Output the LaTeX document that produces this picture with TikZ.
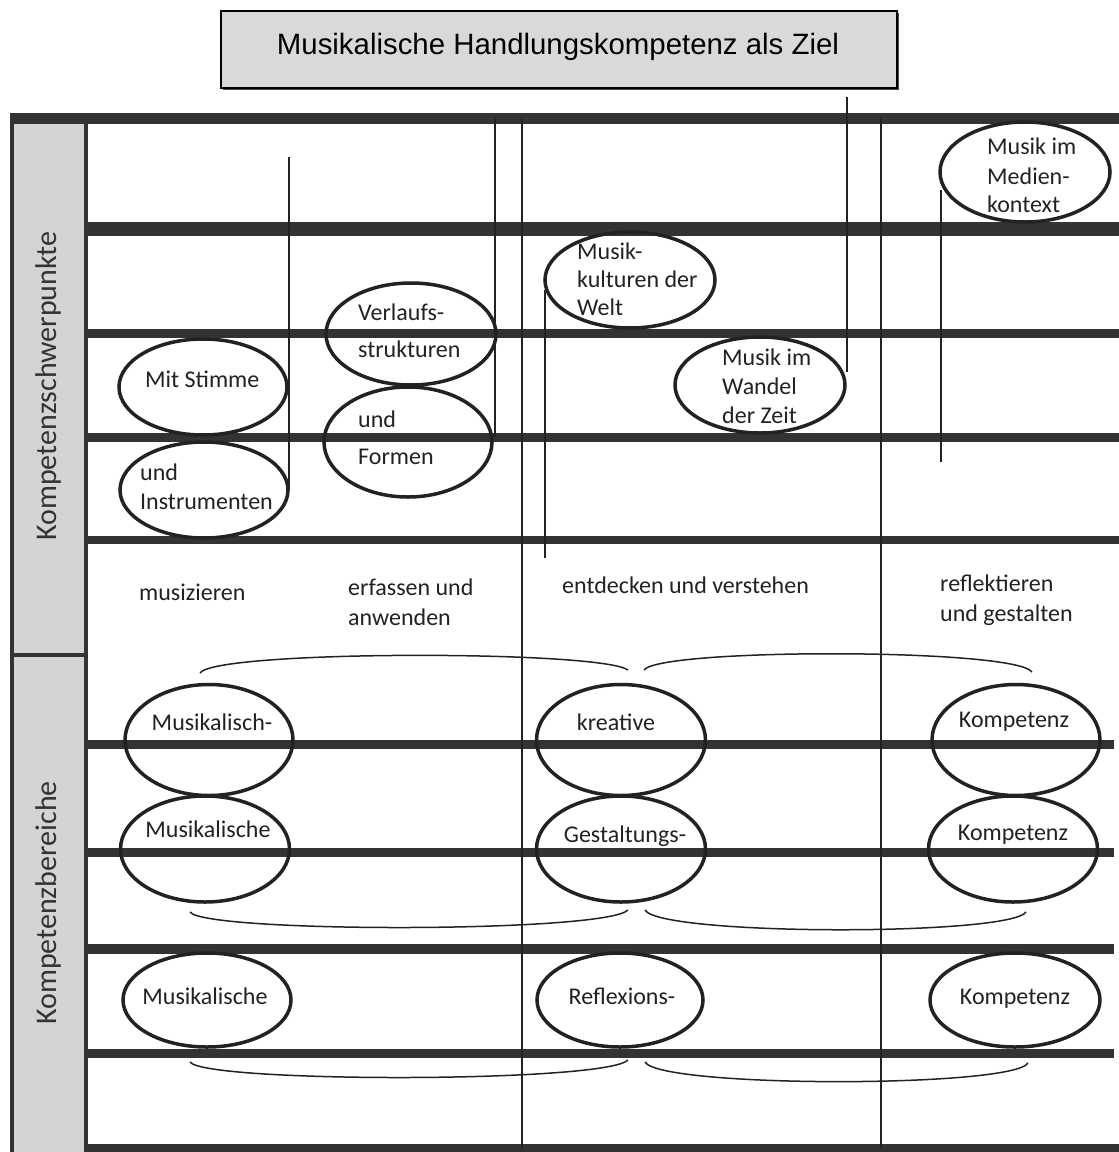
\documentclass[tikz,border=0pt]{standalone}
\usepackage{fontspec}
\setmainfont{Carlito}
\newfontfamily\titlefont{Liberation Sans}
\usetikzlibrary{shapes.geometric}
\definecolor{barcol}{HTML}{333333}
\definecolor{sidegray}{HTML}{D4D4D4}
\definecolor{titlegray}{HTML}{D9D9D9}
\definecolor{inkcol}{HTML}{222222}
\begin{document}
\begin{tikzpicture}[x=1pt,y=-1pt,
  hbar/.style={line width=#1, draw=barcol},
  thinline/.style={line width=1.3pt, draw=inkcol},
  ell/.style={draw=inkcol, line width=3.5pt, ellipse, inner sep=0pt},
  lbl/.style={font=\fontsize{24}{29}\selectfont, inner sep=0pt, anchor=mid west, text=inkcol, yshift=-5pt},
  clbl/.style={font=\fontsize{24}{29}\selectfont, inner sep=0pt, anchor=mid, text=inkcol, yshift=-5pt},
  sidelbl/.style={font=\fontsize{30}{36}\selectfont, inner sep=0pt, rotate=90, text=barcol},
  arcline/.style={line width=1.5pt, draw=inkcol}]
\useasboundingbox (0,0) rectangle (1119,1152);
\fill[white] (0,0) rectangle (1119,1152);

% title box
\fill[black!70] (223,13) rectangle (899,90);
\node[draw=black, line width=2pt, fill=titlegray, minimum width=676pt, minimum height=77pt, inner sep=0pt, anchor=north west] (title) at (220,10) {};
\node[font=\titlefont\fontsize{29.4}{34}\selectfont, inner sep=0pt, anchor=base] (titletext) at (558,54) {Musikalische Handlungskompetenz als Ziel};

% sidebar
\fill[sidegray] (12,118) rectangle (86,1152);
\draw[barcol, line width=4pt] (12,1152) -- (12,116) (86,116) -- (86,1152);
\draw[barcol, line width=4pt] (12,655) -- (86,655);
\node[sidelbl] (side1) at (49,386) {Kompetenzschwerpunkte};
\node[sidelbl] (side2) at (49,903) {Kompetenzbereiche};

% horizontal bars, top section
\draw[hbar=11pt] (10,118) -- (1119,118);
\draw[hbar=14pt] (86,229) -- (1119,229);
\draw[hbar=9pt] (86,333) -- (1119,333);
\draw[hbar=9pt] (86,437) -- (1119,437);
\draw[hbar=8pt] (86,540) -- (1119,540);
% horizontal bars, bottom section
\draw[hbar=9pt] (86,744) -- (1114,744);
\draw[hbar=9pt] (86,852) -- (1114,852);
\draw[hbar=10pt] (86,949) -- (1114,949);
\draw[hbar=9pt] (86,1053) -- (1114,1053);
\draw[hbar=8pt] (86,1148) -- (1119,1148);

% thin vertical lines
\draw[thinline] (289,157) -- (289,490);
\draw[thinline] (495,118) -- (495,437);
\draw[thinline] (522,118) -- (522,1148);
\draw[thinline] (545,290) -- (545,558);
\draw[thinline] (847,97) -- (847,372);
\draw[thinline] (881,118) -- (881,1148);
\draw[thinline] (941,190) -- (941,462);

% top ellipses
\node[ell, minimum width=170pt, minimum height=100pt] (eMedien) at (1025,172) {};
\node[ell, minimum width=170pt, minimum height=96pt] (eKultur) at (630,280) {};
\node[ell, minimum width=170pt, minimum height=96pt] (eWandel) at (760,385) {};
\node[ell, minimum width=168pt, minimum height=96pt] (eStimme) at (203,387) {};
\node[ell, minimum width=168pt, minimum height=96pt] (eInstr) at (204,490) {};
\node[ell, minimum width=170pt, minimum height=102pt] (eVerlauf) at (411,334) {};
\node[ell, minimum width=168pt, minimum height=110pt] (eFormen) at (408,442) {};

% top ellipse texts
\node[lbl] (tMed1) at (987,147) {Musik im};
\node[lbl] (tMed2) at (987,177) {Medien-};
\node[lbl] (tMed3) at (987,205) {kontext};
\node[lbl] (tKul1) at (577,252) {Musik-};
\node[lbl] (tKul2) at (577,280) {kulturen der};
\node[lbl] (tKul3) at (577,308) {Welt};
\node[lbl] (tWan1) at (722,358) {Musik im};
\node[lbl] (tWan2) at (722,387) {Wandel};
\node[lbl] (tWan3) at (722,416) {der Zeit};
\node[lbl] (tSti) at (145,380) {Mit Stimme};
\node[lbl] (tIns1) at (140,473) {und};
\node[lbl] (tIns2) at (140,502) {Instrumenten};
\node[lbl] (tVer1) at (358,313) {Verlaufs-};
\node[lbl] (tVer2) at (358,350) {strukturen};
\node[lbl] (tFor1) at (358,420) {und};
\node[lbl] (tFor2) at (358,457) {Formen};

% middle labels
\node[lbl] (mMus) at (139,593) {musizieren};
\node[lbl] (mErf1) at (348,588) {erfassen und};
\node[lbl] (mErf2) at (348,618) {anwenden};
\node[lbl] (mEnt) at (562,586) {entdecken und verstehen};
\node[lbl] (mRef1) at (940,584) {reflektieren};
\node[lbl] (mRef2) at (940,614) {und gestalten};

% arcs
\draw[arcline] (200,673) .. controls (215,650) and (600,650) .. (628,670);
\draw[arcline] (644,670) .. controls (660,648) and (1015,648) .. (1032,672);
\draw[arcline] (190,912) .. controls (205,933) and (605,933) .. (628,910);
\draw[arcline] (645,910) .. controls (660,936) and (1010,936) .. (1026,912);
\draw[arcline] (190,1062) .. controls (205,1083) and (605,1083) .. (628,1060);
\draw[arcline] (645,1062) .. controls (660,1088) and (1012,1088) .. (1028,1063);

% bottom ellipses
\node[ell, minimum width=168pt, minimum height=111pt] (b11) at (209,740) {};
\node[ell, minimum width=169pt, minimum height=111pt] (b12) at (621,740) {};
\node[ell, minimum width=168pt, minimum height=111pt] (b13) at (1016,740) {};
\node[ell, minimum width=169pt, minimum height=106pt] (b21) at (205,849) {};
\node[ell, minimum width=169pt, minimum height=106pt] (b22) at (621,849) {};
\node[ell, minimum width=169pt, minimum height=106pt] (b23) at (1013,849) {};
\node[ell, minimum width=168pt, minimum height=94pt] (b31) at (207,1000) {};
\node[ell, minimum width=166pt, minimum height=94pt] (b32) at (620,1000) {};
\node[ell, minimum width=170pt, minimum height=94pt] (b33) at (1015,1000) {};

% bottom ellipse texts
\node[clbl] (tb11) at (212,723) {Musikalisch-};
\node[clbl] (tb12) at (616,723) {kreative};
\node[clbl] (tb13) at (1014,720) {Kompetenz};
\node[clbl] (tb21) at (208,830) {Musikalische};
\node[clbl] (tb22) at (625,835) {Gestaltungs-};
\node[clbl] (tb23) at (1013,833) {Kompetenz};
\node[clbl] (tb31) at (205,997) {Musikalische};
\node[clbl] (tb32) at (622,997) {Reflexions-};
\node[clbl] (tb33) at (1015,997) {Kompetenz};
\end{tikzpicture}
\end{document}
